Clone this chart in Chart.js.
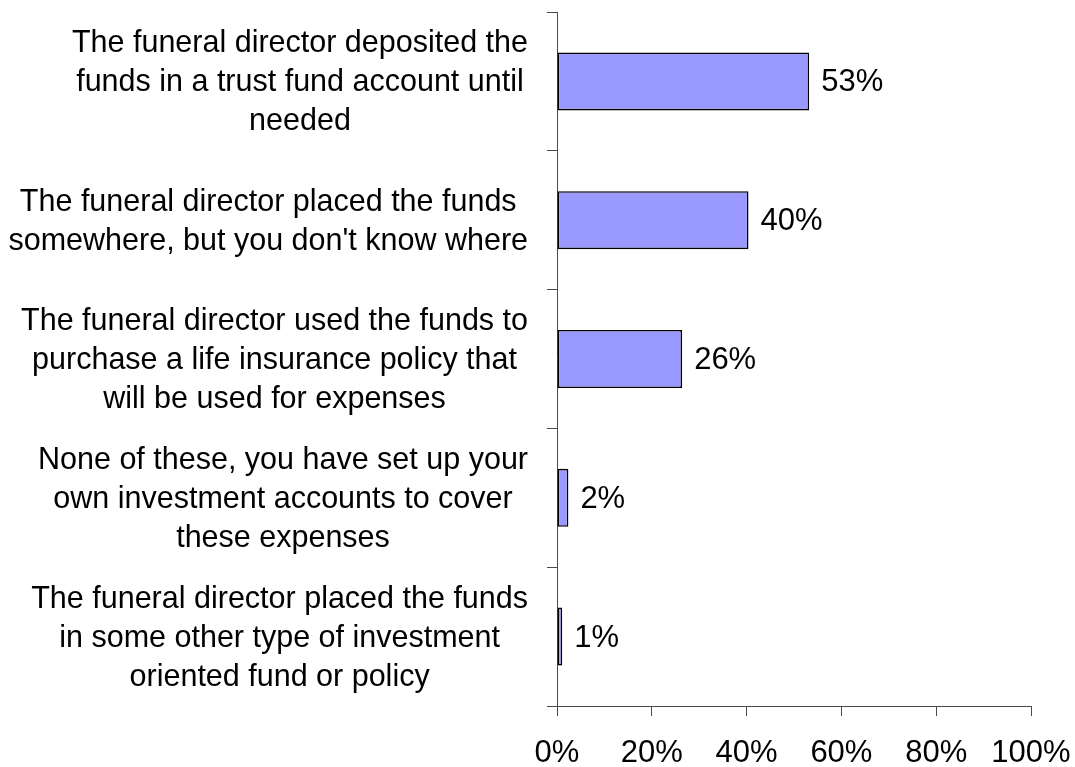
<!DOCTYPE html>
<html>
<head>
<meta charset="utf-8">
<script src="https://cdn.jsdelivr.net/npm/chart.js@4/dist/chart.umd.min.js"></script>
<style>
    html, body { margin: 0; padding: 0; background: #fff; }
    #wrap { width: 1075px; height: 767px; }
</style>
</head>
<body>
<div id="wrap"><canvas id="fundsChart" width="1075" height="767"></canvas></div>
<script>
// answer categories (one entry per line of the label)
const categories = [
    ['The funeral director deposited the', 'funds in a trust fund account until', 'needed'],
    ['The funeral director placed the funds', "somewhere, but you don't know where"],
    ['The funeral director used the funds to', 'purchase a life insurance policy that', 'will be used for expenses'],
    ['None of these, you have set up your', 'own investment accounts to cover', 'these expenses'],
    ['The funeral director placed the funds', 'in some other type of investment', 'oriented fund or policy']
];
// bar lengths as read against the axis, and the printed labels
const barValues = [53.2, 40.4, 26.4, 2.4, 1.1];
const valueLabels = ['53%', '40%', '26%', '2%', '1%'];
const xTicks = [0, 20, 40, 60, 80, 100];

const FONT = "'Liberation Sans', Arial, sans-serif";
const FSIZE = 31;
const CAT_FSIZE = 30.5;
const AXIS = '#4a4a4a';

// category labels: block right-aligned, lines centred inside the block
const categoryLabels = {
    id: 'categoryLabels',
    afterDraw(chart) {
        const ctx = chart.ctx;
        const y = chart.scales.y;
        const right = 528, lh = 39;
        ctx.save();
        ctx.font = CAT_FSIZE + 'px ' + FONT;
        ctx.fillStyle = '#000';
        ctx.textAlign = 'center';
        ctx.textBaseline = 'alphabetic';
        categories.forEach((lines, i) => {
            const cy = y.getPixelForValue(i);
            const w = Math.max(...lines.map(l => ctx.measureText(l).width));
            const cx = right - w / 2;
            lines.forEach((l, j) => {
                const by = cy + (j - (lines.length - 1) / 2) * lh + CAT_FSIZE * 0.716 / 2 - 1;
                ctx.fillText(l, cx, by);
            });
        });
        ctx.restore();
    }
};

const valueText = {
    id: 'valueText',
    afterDatasetsDraw(chart) {
        const ctx = chart.ctx;
        const meta = chart.getDatasetMeta(0);
        ctx.save();
        ctx.font = FSIZE + 'px ' + FONT;
        ctx.fillStyle = '#000';
        ctx.textAlign = 'left';
        ctx.textBaseline = 'alphabetic';
        meta.data.forEach((bar, i) => {
            ctx.fillText(valueLabels[i], bar.x + 12, bar.y + FSIZE * 0.716 / 2 - 1);
        });
        ctx.restore();
    }
};

new Chart(document.getElementById('fundsChart'), {
    type: 'bar',
    data: {
        labels: categories,
        datasets: [{
            data: barValues,
            backgroundColor: '#9999ff',
            borderColor: '#000',
            borderWidth: 1.6,
            borderSkipped: false,
            categoryPercentage: 1,
            barPercentage: 0.418
        }]
    },
    options: {
        indexAxis: 'y',
        responsive: false,
        animation: false,
        layout: { padding: { top: 12, right: 44, left: 0, bottom: 0 } },
        plugins: {
            legend: { display: false },
            tooltip: { enabled: false }
        },
        scales: {
            x: {
                min: 0,
                max: 100,
                afterBuildTicks(scale) {
                    scale.ticks = xTicks.map(v => ({ value: v }));
                },
                afterFit(scale) {
                    scale.height = 61;
                    scale.paddingLeft = 0;
                    scale.paddingRight = 0;
                },
                border: { color: AXIS, width: 1 },
                grid: { drawOnChartArea: false, drawTicks: true, tickLength: 10, color: AXIS },
                ticks: {
                    color: '#000',
                    padding: 19,
                    maxRotation: 0,
                    font: { size: FSIZE, family: FONT },
                    callback: v => v + '%'
                }
            },
            y: {
                afterFit(scale) { scale.width = 557; },
                border: { color: AXIS, width: 1 },
                grid: { drawOnChartArea: false, drawTicks: true, tickLength: 10, offset: true, color: AXIS },
                ticks: { display: false }
            }
        }
    },
    plugins: [categoryLabels, valueText]
});
</script>
</body>
</html>
